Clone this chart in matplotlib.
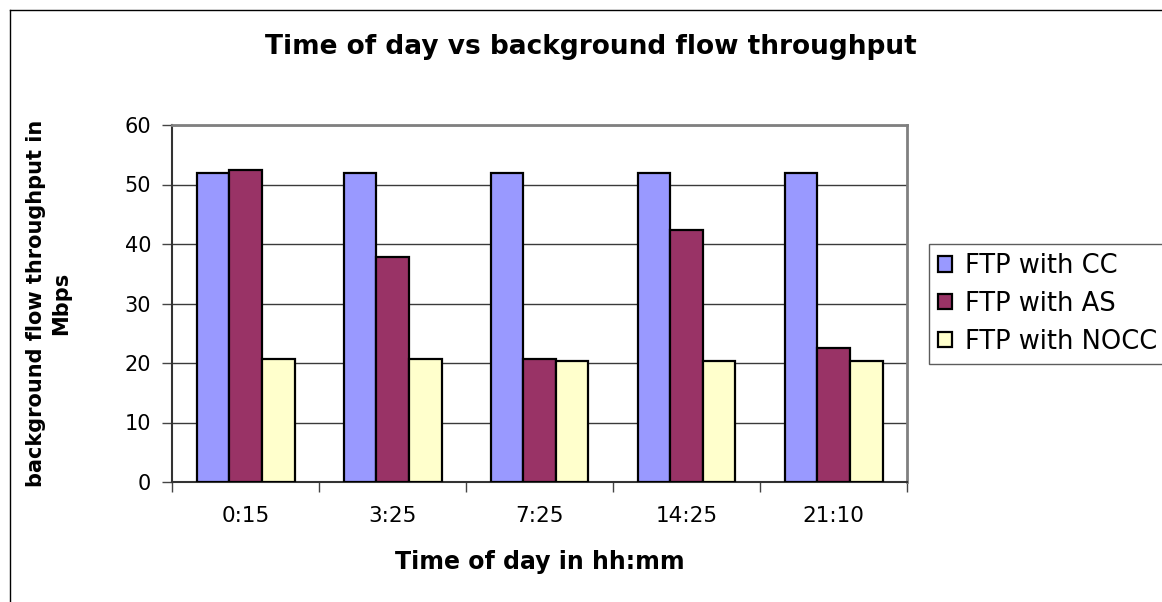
import matplotlib
matplotlib.use('Agg')
import matplotlib.pyplot as plt
from matplotlib.lines import Line2D
import numpy as np

# Throughput of the background FTP flow (Mbps) at each time of day
times = ['0:15', '3:25', '7:25', '14:25', '21:10']
ftp_cc = [52.0, 52.0, 52.0, 52.0, 52.0]
ftp_as = [52.5, 37.8, 20.6, 42.3, 22.5]
ftp_nocc = [20.6, 20.6, 20.4, 20.4, 20.4]

series = [('FTP with CC', ftp_cc, '#9999FF'),
          ('FTP with AS', ftp_as, '#993366'),
          ('FTP with NOCC', ftp_nocc, '#FFFFCC')]

plt.rcParams['font.family'] = ['DejaVu Sans']

W, H = 1162, 602
fig = plt.figure(figsize=(W / 100, H / 100), dpi=100)
fig.patch.set_facecolor('white')

# plot area in pixel terms
left, right, top, bottom = 172, 907, 125, 482
ax = fig.add_axes([left / W, 1 - bottom / H, (right - left) / W, (bottom - top) / H])

x = np.arange(len(times))
w = 1 / 4.5  # three bars + 150% gap per category
for i, (name, vals, col) in enumerate(series):
    ax.bar(x + (i - 1) * w, vals, width=w, color=col, edgecolor='black',
           linewidth=1.6, label=name, zorder=3)

ax.set_xlim(-0.5, len(times) - 0.5)
ax.set_ylim(0, 60)
ax.set_yticks(range(0, 61, 10))
ax.yaxis.grid(True, color='#3a3a3a', linewidth=1, zorder=0)
ax.set_axisbelow(True)

ax.set_xticks(x)
ax.set_xticklabels(times)
ax.set_xticks(np.arange(-0.5, len(times)), minor=True)
ax.tick_params(axis='x', which='major', length=0, pad=17, labelsize=15.5)
ax.tick_params(axis='x', which='minor', length=7, width=1, color='#444444', direction='out')
ax.tick_params(axis='y', length=7, width=1, color='#444444', direction='out', pad=8, labelsize=15)

for s in ('left', 'bottom'):
    ax.spines[s].set_color('#333333')
    ax.spines[s].set_linewidth(1.5)
for s in ('top', 'right'):
    ax.spines[s].set_color('#808080')
    ax.spines[s].set_linewidth(2)

ax.set_xlabel('Time of day in hh:mm', fontsize=17, fontweight='bold')
ax.xaxis.set_label_coords(0.5, -0.225)
ax.xaxis.label.set_va('center')
ax.set_ylabel('background flow throughput in\nMbps', fontsize=15, fontweight='bold',
              linespacing=1.3, ha='center')
ax.yaxis.set_label_coords(-0.168, 0.5)
ax.yaxis.label.set_va('center')

fig.text(591 / W, 1 - 47 / H, 'Time of day vs background flow throughput',
         ha='center', va='center', fontsize=19, fontweight='bold')

leg = fig.legend(loc='upper left', bbox_to_anchor=(929 / W, 1 - 244 / H), fontsize=18.5,
                 frameon=True, fancybox=False, edgecolor='#333333', borderaxespad=0,
                 handlelength=0.55, handleheight=0.55, handletextpad=0.5,
                 labelspacing=0.46, borderpad=0.35)
leg.get_frame().set_linewidth(1)
for p in leg.get_patches():
    p.set_linewidth(1.6)

# chart border (left and top edges visible)
fig.add_artist(Line2D([9.5 / W, 9.5 / W], [0, 1 - 9.5 / H], color='black', linewidth=1))
fig.add_artist(Line2D([9.5 / W, 1], [1 - 9.5 / H, 1 - 9.5 / H], color='black', linewidth=1))

fig.savefig('out.png', dpi=100)
